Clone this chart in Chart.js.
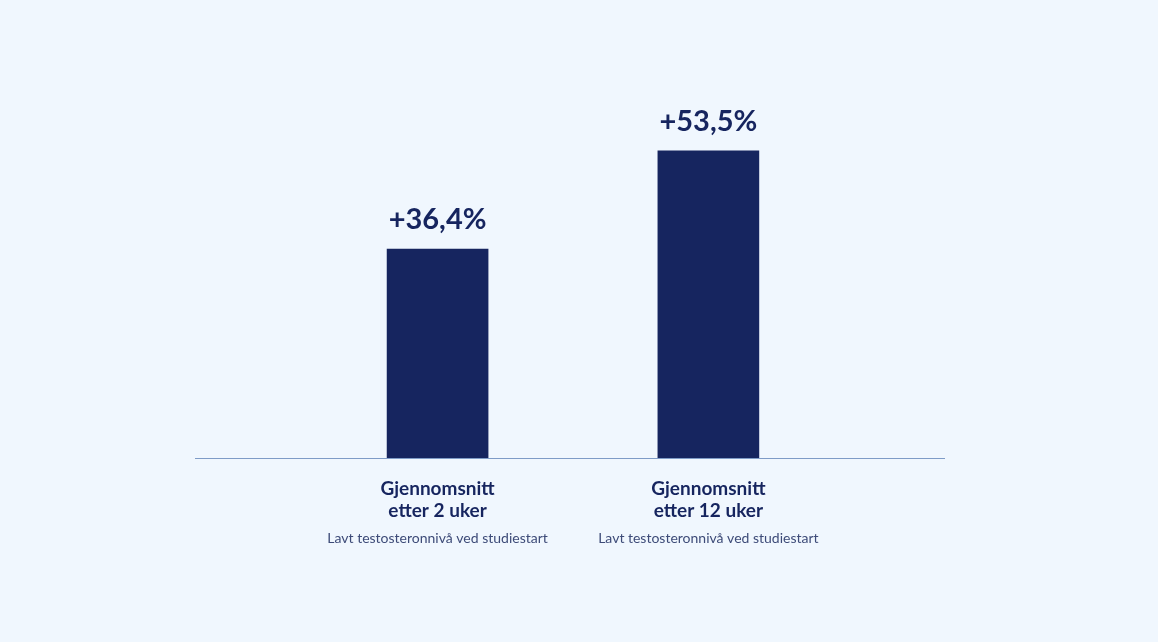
<!DOCTYPE html>
<html><head><meta charset="utf-8">
<script src="https://cdn.jsdelivr.net/npm/chart.js@4/dist/chart.umd.min.js"></script>
<style>html,body{margin:0;background:#f0f7fe;}#w{width:1158px;height:642px;}</style>
</head><body><div id="w"><canvas id="c"></canvas></div>
<script>
const categories = [["Gjennomsnitt","etter 2 uker"],["Gjennomsnitt","etter 12 uker"]];
const subLabels = ["Lavt testosteronnivå ved studiestart","Lavt testosteronnivå ved studiestart"];
const values = [36.4, 53.5];
const valueLabels = ["+36,4%","+53,5%"];
const positions = [1, 2];

const textPlugin = {
  id:'txt',
  afterDatasetsDraw(chart){
    const {ctx, scales:{x,y}} = chart;
    ctx.save();
    ctx.textAlign='center'; ctx.textBaseline='middle';
    positions.forEach((p,i)=>{
      const cx = x.getPixelForValue(p);
      ctx.fillStyle='#16255f';
      ctx.font='bold 29px Lato, "Open Sans", sans-serif';
      ctx.fillText(valueLabels[i], cx, y.getPixelForValue(values[i]) - 29);
      ctx.font='bold 19px Lato, "Open Sans", sans-serif';
      ctx.fillText(categories[i][0], cx, 489);
      ctx.fillText(categories[i][1], cx, 511);
      ctx.fillStyle='#3d4b78';
      ctx.font='14px Lato, "Open Sans", sans-serif';
      ctx.fillText(subLabels[i], cx, 538);
    });
    ctx.strokeStyle='#7f9cc7'; ctx.lineWidth=1;
    ctx.beginPath(); ctx.moveTo(x.left, y.bottom+0.5); ctx.lineTo(x.right, y.bottom+0.5); ctx.stroke();
    ctx.restore();
  }
};

new Chart(document.getElementById('c'), {
  type:'bar',
  data:{datasets:[{data: positions.map((p,i)=>({x:p,y:values[i]})), backgroundColor:'#16255f', barThickness:101}]},
  options:{
    responsive:true, maintainAspectRatio:false, animation:false,
    layout:{padding:{left:195,right:213,top:56,bottom:0}},
    plugins:{legend:{display:false},tooltip:{enabled:false}},
    scales:{
      x:{type:'linear',min:0.335,max:2.643,display:false},
      y:{min:0,max:70,display:false,afterFit(s){}}
    }
  },
  plugins:[textPlugin,{id:'pad',beforeLayout(c){c.options.layout.padding.bottom=642-458;}}]
});
</script></body></html>
